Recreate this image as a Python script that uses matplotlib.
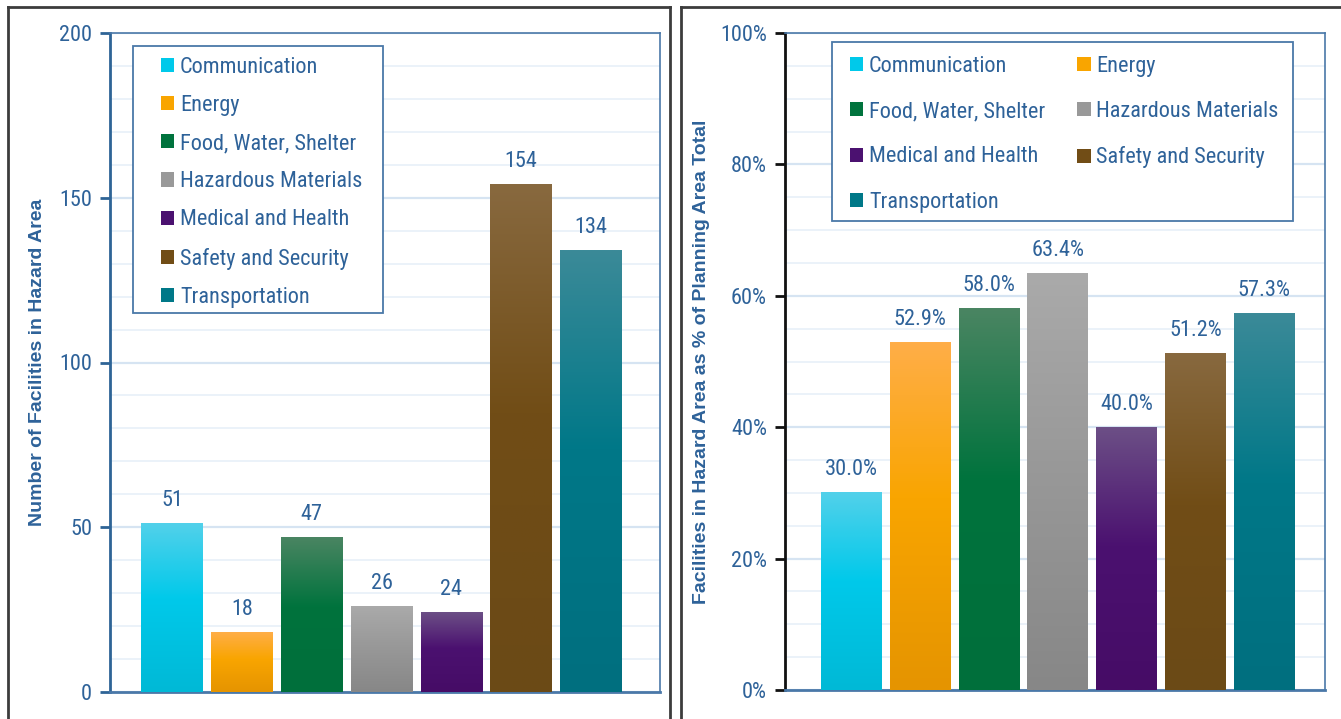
import numpy as np
import matplotlib
matplotlib.use('Agg')
import matplotlib.pyplot as plt
from matplotlib import font_manager as fm
from matplotlib.colors import LinearSegmentedColormap
from matplotlib.patches import Patch, Rectangle
from matplotlib.lines import Line2D
from matplotlib.ticker import MultipleLocator, FuncFormatter

# data
categories = ['Communication', 'Energy', 'Food, Water, Shelter',
              'Hazardous Materials', 'Medical and Health',
              'Safety and Security', 'Transportation']
counts = [51, 18, 47, 26, 24, 154, 134]
percents = [30.0, 52.9, 58.0, 63.4, 40.0, 51.2, 57.3]

# top / middle / bottom shades for the bar gradients
tops = ['#52d1ea', '#ffae48', '#4a8562', '#aaaaaa', '#6c4f86', '#88693f', '#3b8a98']
mids = ['#00c9ea', '#f9a500', '#00733d', '#999999', '#4b1170', '#714d16', '#007888']
bots = ['#00b9d6', '#e59400', '#006f3b', '#878787', '#460c66', '#6b4a16', '#006f7f']

blue = '#2E6299'
names = {f.name for f in fm.fontManager.ttflist}
narrow = 'Liberation Sans'
for cand in ['Liberation Sans Narrow', 'Roboto Condensed', 'Open Sans Condensed']:
    if cand in names:
        narrow = cand
        break

W, H = 1341, 719
fig = plt.figure(figsize=(W / 100, H / 100), dpi=100)


def px(x0, y0, x1, y1):
    return [x0 / W, 1 - y1 / H, (x1 - x0) / W, (y1 - y0) / H]


def gradient_bars(ax, values):
    bars = ax.bar(range(len(values)), values, width=0.88, color='none',
                  zorder=3)
    grad = np.linspace(0, 1, 256).reshape(-1, 1)
    for b, t, m, bt in zip(bars, tops, mids, bots):
        cmap = LinearSegmentedColormap.from_list(
            'g', [(0, t), (0.45, m), (1, bt)])
        x0, w, h = b.get_x(), b.get_width(), b.get_height()
        ax.imshow(grad, cmap=cmap, aspect='auto', origin='upper',
                  extent=(x0, x0 + w, 0, h), zorder=3)
    return bars


def style_axes(ax, major, minor, ymax, left_color):
    ax.set_ylim(0, ymax)
    ax.yaxis.set_major_locator(MultipleLocator(major))
    ax.yaxis.set_minor_locator(MultipleLocator(minor))
    ax.grid(which='minor', axis='y', color='#e8f0f8', lw=1.2, zorder=0)
    ax.grid(which='major', axis='y', color='#d6e4f2', lw=1.6, zorder=0)
    ax.set_axisbelow(True)
    ax.set_xticks([])
    for s in ['top', 'right', 'bottom']:
        ax.spines[s].set_color('#4a78a8')
        ax.spines[s].set_linewidth(1.2)
    ax.spines['bottom'].set_linewidth(2)
    ax.spines['left'].set_color(left_color)
    ax.spines['left'].set_linewidth(2)
    ax.tick_params(axis='y', which='major', length=7, width=2,
                   color=left_color, labelcolor=blue, labelsize=16, pad=6)
    ax.tick_params(axis='y', which='minor', length=0)
    for lab in ax.get_yticklabels():
        lab.set_fontfamily(narrow)


def legend(ax, box, anchor, order, ncol, spacing, colspacing):
    x0, y0, x1, y1 = box
    ax.add_artist(Rectangle((x0 / W, 1 - y1 / H), (x1 - x0) / W,
                            (y1 - y0) / H, transform=fig.transFigure,
                            facecolor='white', edgecolor='#4a78a8',
                            lw=1.3, zorder=4, clip_on=False))
    handles = [Patch(facecolor=mids[i], edgecolor='none') for i in order]
    labels = [categories[i] for i in order]
    leg = ax.legend(handles, labels, loc='upper left',
                    bbox_to_anchor=(anchor[0] / W, 1 - anchor[1] / H),
                    bbox_transform=fig.transFigure,
                    ncol=ncol, frameon=False, borderpad=0, borderaxespad=0,
                    prop={'family': narrow, 'size': 16},
                    labelcolor=blue, handlelength=0.6, handleheight=0.6,
                    handletextpad=0.25, labelspacing=spacing,
                    columnspacing=colspacing)
    leg.set_zorder(5)
    return leg


# left chart: counts
ax1 = fig.add_axes(px(110, 33, 660, 692))
gradient_bars(ax1, counts)
ax1.set_xlim(-0.89, 6.99)
style_axes(ax1, 50, 10, 200, '#2E6496')
for i, v in enumerate(counts):
    ax1.annotate(str(v), (i, v), xytext=(0, 9), textcoords='offset points',
                 ha='center', va='bottom', color=blue, fontsize=16,
                 family=narrow)
ax1.set_ylabel('Number of Facilities in Hazard Area', color=blue,
               fontsize=14, fontweight='bold', family='Liberation Sans',
               labelpad=9)
legend(ax1, (133, 46, 383, 313), (161, 57), range(7), 1, 0.77, 1.0)

# right chart: percent of planning area
ax2 = fig.add_axes(px(785, 33, 1325, 690))
gradient_bars(ax2, percents)
ax2.set_xlim(-0.96, 6.88)
style_axes(ax2, 20, 5, 100, '#111111')
ax2.yaxis.set_major_formatter(FuncFormatter(lambda v, p: f'{v:.0f}%'))
for lab in ax2.get_yticklabels():
    lab.set_fontfamily(narrow)
for i, v in enumerate(percents):
    ax2.annotate(f'{v:.1f}%', (i, v), xytext=(0, 9),
                 textcoords='offset points', ha='center', va='bottom',
                 color=blue, fontsize=16, family=narrow)
ax2.set_ylabel('Facilities in Hazard Area as % of Planning Area Total',
               color=blue, fontsize=14, fontweight='bold',
               family='Liberation Sans', labelpad=7)
legend(ax2, (832, 42, 1293, 221), (850, 56), [0, 2, 4, 6, 1, 3, 5], 2,
       1.09, 1.45)

# panel frames
frame = dict(color='#3c3c3c', lw=2, transform=fig.transFigure)
for xs, ys in [([8, 8], [7, 719]), ([8, 670], [7, 7]), ([670, 670], [7, 719]),
               ([681, 681], [7, 719]), ([681, 1341], [7, 7])]:
    fig.add_artist(Line2D([x / W for x in xs], [1 - y / H for y in ys],
                          **frame))

fig.savefig('out.png', dpi=100)
